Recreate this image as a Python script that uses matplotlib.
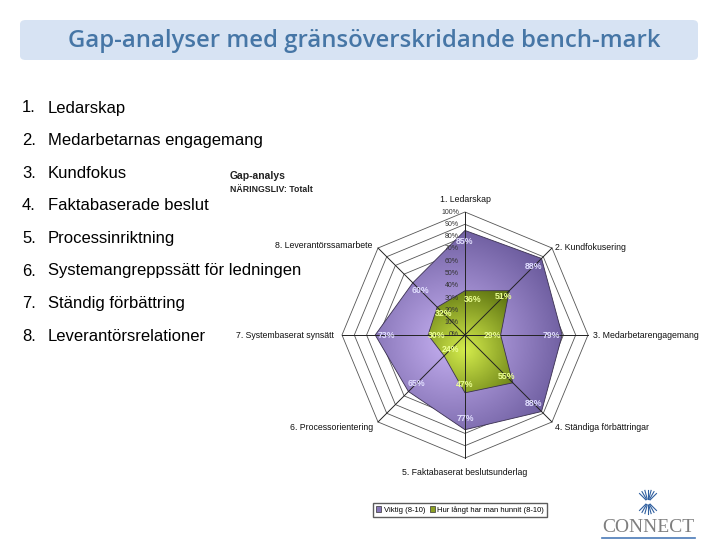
import numpy as np
import matplotlib.pyplot as plt
from matplotlib.patches import FancyBboxPatch, Polygon, Patch
from matplotlib.colors import LinearSegmentedColormap

# Data
list_items = ["Ledarskap", "Medarbetarnas engagemang", "Kundfokus", "Faktabaserade beslut",
              "Processinriktning", "Systemangreppssätt för ledningen", "Ständig förbättring",
              "Leverantörsrelationer"]
categories = ["1. Ledarskap", "2. Kundfokusering", "3. Medarbetarengagemang",
              "4. Ständiga förbättringar", "5. Faktabaserat beslutsunderlag",
              "6. Processorientering", "7. Systembaserat synsätt", "8. Leverantörssamarbete"]
viktig = [85, 88, 79, 88, 77, 65, 73, 60]
hunnit = [36, 51, 29, 55, 47, 24, 30, 32]
ring_ticks = [0, 10, 20, 30, 40, 50, 60, 70, 80, 90, 100]
series_names = ["Viktig (8-10)", "Hur långt har man hunnit (8-10)"]

W, H = 720, 540
fig = plt.figure(figsize=(7.2, 5.4), dpi=100)

# Title box
tb = FancyBboxPatch((20 / W, 1 - 60 / H), 678 / W, 40 / H, boxstyle="round,pad=0,rounding_size=0.008",
                    transform=fig.transFigure, facecolor="#d7e3f3", edgecolor="none")
fig.patches.append(tb)
fig.text(364 / W, 1 - 41 / H, "Gap-analyser med gränsöverskridande bench-mark", ha="center", va="center",
         fontsize=17.2, color="#4676a6", family="Open Sans", weight="semibold")

# Left list
for i, item in enumerate(list_items):
    y = 1 - (108 + i * 32.6) / H
    fig.text(22 / W, y, f"{i + 1}.", ha="left", va="center", fontsize=12, family="Liberation Sans")
    fig.text(48 / W, y, item, ha="left", va="center", fontsize=12, family="Liberation Sans")

# Chart title
fig.text(230 / W, 1 - 176 / H, "Gap-analys", fontsize=7.5, weight="bold", color="#222",
         va="center", family="Liberation Sans")
fig.text(230 / W, 1 - 189 / H, "NÄRINGSLIV: Totalt", fontsize=6.3, weight="bold", color="#222",
         va="center", family="Liberation Sans")

# Radar axes (1 unit = 123 px, centre at 465, 335)
cx, cy, half = 465, 335, 200
ax = fig.add_axes([(cx - half) / W, 1 - (cy + half) / H, 2 * half / W, 2 * half / H])
lim = half / 123
ax.set_xlim(-lim, lim)
ax.set_ylim(-lim, lim)
ax.set_aspect("equal")
ax.axis("off")

n = len(categories)
ang = np.pi / 2 - 2 * np.pi * np.arange(n) / n
ux, uy = np.cos(ang), np.sin(ang)


def poly(vals):
    r = np.asarray(vals) / 100
    return np.column_stack([r * ux, r * uy])


# rings
for t in ring_ticks[1:]:
    p = poly([t] * n)
    ax.add_patch(Polygon(p, closed=True, fill=False, edgecolor="#555", lw=0.6, zorder=1))


def gradient_fill(vals, c_light, c_dark, centre, scale, zorder):
    p = Polygon(poly(vals), closed=True, facecolor="none", edgecolor="#3a3050", lw=0.6, zorder=zorder + 0.1)
    ax.add_patch(p)
    xx, yy = np.meshgrid(np.linspace(-1, 1, 300), np.linspace(-1, 1, 300))
    d = np.hypot(xx - centre[0], yy - centre[1]) / scale
    cmap = LinearSegmentedColormap.from_list("g", [c_light, c_dark])
    im = ax.imshow(np.clip(d, 0, 1), extent=(-1, 1, -1, 1), origin="lower", cmap=cmap,
                   vmin=0, vmax=1, zorder=zorder, interpolation="bilinear")
    im.set_clip_path(p)


gradient_fill(viktig, "#c8b2f4", "#6c5c9e", (-0.1, -0.05), 0.95, 2)
gradient_fill(hunnit, "#d4ec4c", "#5e7410", (0.0, -0.12), 0.55, 3)

# spokes
for k in range(n):
    ax.plot([0, ux[k]], [0, uy[k]], color="#222", lw=0.7, zorder=4)

# ring tick labels
for t in ring_ticks:
    ax.text(-0.05, t / 100, f"{t}%", ha="right", va="center", fontsize=5, color="#333",
            zorder=5, family="Liberation Sans")

# data labels
for vals, col, off in [(viktig, "#e2e0ff", 0.09), (hunnit, "#ecff96", 0.07)]:
    for k, v in enumerate(vals):
        r = v / 100 - off
        dx = 0.06 if (k == 0 and vals is hunnit) else 0.0
        ax.text(r * ux[k] + dx, r * uy[k], f"{v}%", ha="center", va="center", fontsize=6.3,
                color=col, weight="bold", zorder=6, family="Liberation Sans")

# category labels
cat_pos = [(0, 1.1, "center"), (0.73, 0.71, "left"), (1.04, 0, "left"), (0.73, -0.75, "left"),
           (0, -1.12, "center"), (-0.75, -0.75, "right"), (-1.07, 0, "right"), (-0.75, 0.73, "right")]
for (x, y, ha), lab in zip(cat_pos, categories):
    ax.text(x, y, lab, ha=ha, va="center", fontsize=6.3, color="#111", family="Liberation Sans",
            zorder=6)

# legend
handles = [Patch(facecolor="#8878b8", edgecolor="#333", lw=0.5),
           Patch(facecolor="#8ca024", edgecolor="#333", lw=0.5)]
fig.legend(handles, series_names, loc="center", bbox_to_anchor=(460 / W, 1 - 510 / H), ncol=2,
           frameon=True, fancybox=False, edgecolor="#333", borderpad=0.4,
           handlelength=0.7, handleheight=0.7, handletextpad=0.3, columnspacing=0.6,
           prop={"family": "Liberation Sans", "size": 5.5})

# logo
fig.text(648 / W, 1 - 527 / H, "CONNECT", ha="center", va="center", fontsize=14,
         family="Liberation Serif", color="#7f7f7f")
fig.add_artist(plt.Line2D([602 / W, 695 / W], [1 - 538 / H, 1 - 538 / H], color="#4a7ab8", lw=1.2))
for a in np.linspace(0, 2 * np.pi, 24, endpoint=False):
    if abs(np.cos(a)) > 0.8:
        continue
    x0, y0 = 648 + 3 * np.cos(a), 502 - 3 * np.sin(a)
    x1, y1 = 648 + 12 * np.cos(a), 502 - 12 * np.sin(a)
    fig.add_artist(plt.Line2D([x0 / W, x1 / W], [1 - y0 / H, 1 - y1 / H], color="#2f5f9f", lw=0.8))

fig.savefig("out.png", dpi=100)
